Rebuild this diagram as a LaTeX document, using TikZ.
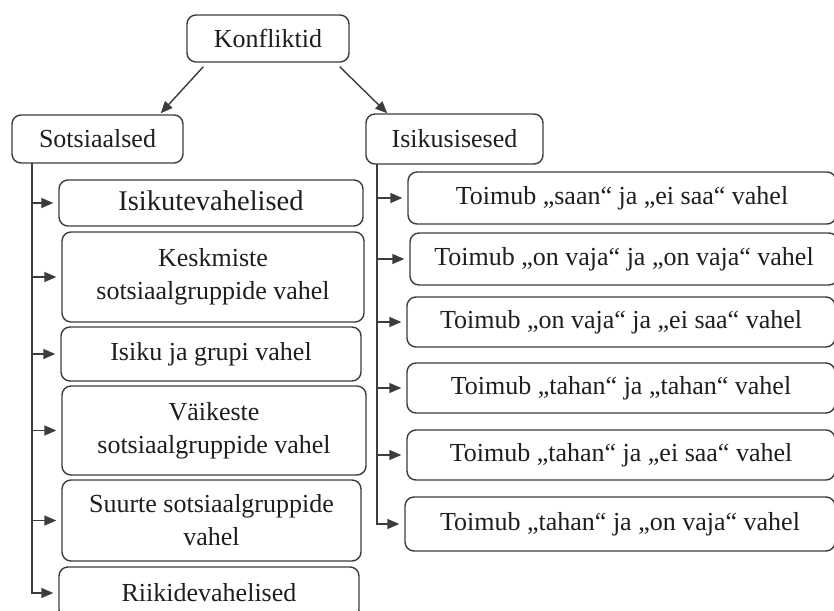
\documentclass[tikz,border=0pt]{standalone}
\usepackage{fontspec}
\setmainfont{Liberation Serif}
\usetikzlibrary{arrows.meta,calc}
\definecolor{linec}{HTML}{3C3C3C}
\definecolor{txtc}{HTML}{1E1E1E}
\begin{document}
\begin{tikzpicture}[x=1pt,y=-1pt,
  box/.style={draw=linec, line width=1.4pt, rounded corners=9pt, inner sep=0pt,
    align=center, font=\fontsize{26}{33}\selectfont, text=txtc, fill=white},
  arr/.style={draw=linec, line width=1.4pt, -{Triangle[length=12pt,width=10pt]}},
  link/.style={draw=linec, line width=1.4pt}]
\useasboundingbox (0,0) rectangle (834,610);
\clip (0,0) rectangle (834,610);
\fill[white] (0,0) rectangle (834,610);

% top level
\node[box, minimum width=162pt, minimum height=47pt] (konf) at (268,38.5) {Konfliktid};
\node[box, minimum width=171pt, minimum height=48pt] (sots) at (97.5,139) {Sotsiaalsed};
\node[box, minimum width=177pt, minimum height=50pt] (isis) at (454.5,139) {Isikusisesed};

\draw[arr] ($(konf.south west)+(17,4)$) -- ($(sots.north east)+(-23,-1)$);
\draw[arr] ($(konf.south east)+(-10,4)$) -- ($(isis.north west)+(22,0)$);

% left branch
\node[box, minimum width=304pt, minimum height=46pt, font=\fontsize{28.5}{33}\selectfont] (l1) at (211,203) {\raisebox{5pt}{Isikutevahelised}};
\node[box, minimum width=302pt, minimum height=90pt] (l2) at (213,277) {Keskmiste\\sotsiaalgruppide vahel};
\node[box, minimum width=300pt, minimum height=54pt] (l3) at (211,354) {Isiku ja grupi vahel};
\node[box, minimum width=304pt, minimum height=89pt] (l4) at (214,430.5) {Väikeste\\sotsiaalgruppide vahel};
\node[box, minimum width=299pt, minimum height=81pt] (l5) at (211.5,520.5) {Suurte sotsiaalgruppide\\vahel};
\node[box, minimum width=300pt, minimum height=52pt] (l6) at (209,593) {Riikidevahelised};

\coordinate (lv) at (32,163);
\draw[arr] (lv) |- ([xshift=-5pt]l6.west);
\foreach \n in {l1,l2,l3,l4,l5}
  \draw[arr] (lv |- \n.west) -- ([xshift=-5pt]\n.west);

% right branch
\node[box, minimum width=428pt, minimum height=52pt] (r1) at (622,198) {Toimub „saan“ ja „ei saa“ vahel};
\node[box, minimum width=428pt, minimum height=52pt] (r2) at (624,259) {Toimub „on vaja“ ja „on vaja“ vahel};
\node[box, minimum width=428pt, minimum height=50pt] (r3) at (621,322) {Toimub „on vaja“ ja „ei saa“ vahel};
\node[box, minimum width=428pt, minimum height=50pt] (r4) at (621,388) {Toimub „tahan“ ja „tahan“ vahel};
\node[box, minimum width=428pt, minimum height=50pt] (r5) at (621,455) {Toimub „tahan“ ja „ei saa“ vahel};
\node[box, minimum width=430pt, minimum height=54pt] (r6) at (620,524) {Toimub „tahan“ ja „on vaja“ vahel};

\coordinate (rv) at (377,164);
\draw[arr] (rv) |- ([xshift=-5pt]r6.west);
\foreach \n in {r1,r2,r3,r4,r5}
  \draw[arr] (rv |- \n.west) -- ([xshift=-5pt]\n.west);
\end{tikzpicture}
\end{document}
